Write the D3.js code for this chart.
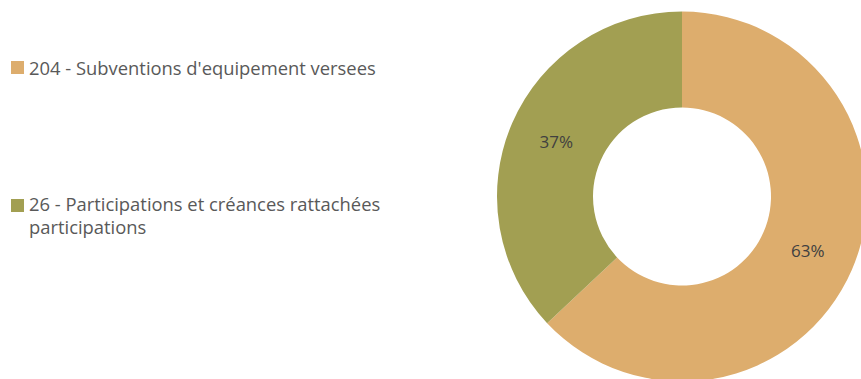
<!DOCTYPE html>
<html><head><meta charset="utf-8">
<script src="https://cdn.jsdelivr.net/npm/d3@7"></script>
<style>html,body{margin:0;padding:0;background:#fff;}svg{display:block;}</style>
</head><body>
<svg id="chart" width="861" height="379"></svg>
<script>
const categories = ["204 - Subventions d'equipement versees", "26 - Participations et créances rattachées participations"];
const legendLines = [["204 - Subventions d'equipement versees"], ["26 - Participations et créances rattachées", "participations"]];
const values = [63, 37];
const colors = ["#DDAD6D", "#A29F52"];

const svg = d3.select("#chart");
const font = "'Open Sans', sans-serif";
const cx = 682, cy = 196.5, rOuter = 185, rInner = 89;

const pie = d3.pie().sort(null).value(d => d)(values);
const arc = d3.arc().innerRadius(rInner).outerRadius(rOuter);
const g = svg.append("g").attr("transform", `translate(${cx},${cy})`);
g.selectAll("path.slice").data(pie).join("path")
  .attr("class", "slice")
  .attr("d", arc)
  .attr("fill", (d, i) => colors[i]);

const total = d3.sum(values);
g.selectAll("text.lbl").data(pie).join("text")
  .attr("class", "lbl")
  .attr("transform", d => { const c = arc.centroid(d); return `translate(${c[0]},${c[1]})`; })
  .attr("text-anchor", "middle")
  .attr("dy", "0.35em")
  .attr("font-family", font)
  .attr("font-size", 17)
  .attr("fill", "#404040")
  .text(d => Math.round(d.data / total * 100) + "%");

// legend
const legendY = [[75], [210.5, 234]];
const squareY = [61, 199];
const legend = svg.append("g");
const texts = [];
categories.forEach((c, i) => {
  legend.append("rect").attr("x", 11).attr("y", squareY[i]).attr("width", 13).attr("height", 13)
    .attr("fill", colors[i]);
  legendLines[i].forEach((line, j) => {
    texts.push(legend.append("text")
      .attr("x", 29)
      .attr("y", legendY[i][j])
      .attr("font-family", font)
      .attr("font-size", 16)
      .attr("fill", "#595959")
      .style("font-variant-ligatures", "none")
      .text(line));
  });
});
// fit font size so first legend line spans the reference width
const w = texts[0].node().getComputedTextLength();
const fs = 16 * 347 / w;
texts.forEach(t => t.attr("font-size", fs));
</script>
</body></html>
